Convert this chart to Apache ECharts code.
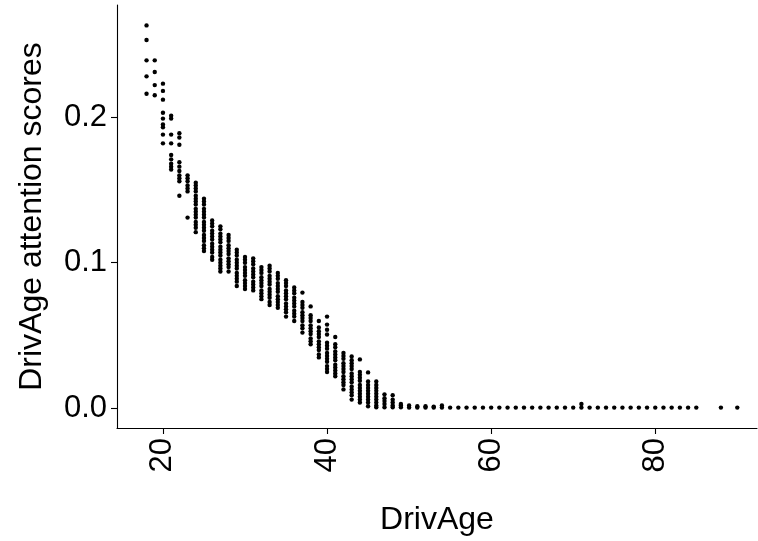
<!DOCTYPE html>
<html>
<head>
<meta charset="utf-8">
<script src="https://cdn.jsdelivr.net/npm/echarts@6/dist/echarts.min.js"></script>
<style>html,body{margin:0;padding:0;background:#fff}#c{width:758px;height:541px}</style>
</head>
<body>
<div id="c"></div>
<script>
var ages = [18,19,20,21,22,23,24,25,26,27,28,29,30,31,32,33,34,35,36,37,38,39,40,41,42,43,44,45,46,47,48,49,50,51,52,53,54,55,56,57,58,59,60,61,62,63,64,65,66,67,68,69,70,71,72,73,74,75,76,77,78,79,80,81,82,83,84,85,88,90];
var scores = [
  [0.263,0.253,0.239,0.228,0.216],
  [0.239,0.231,0.222,0.215],
  [0.223,0.218,0.212,0.203,0.199,0.195,0.193,0.188,0.182],
  [0.201,0.199,0.188,0.182,0.174,0.171,0.168,0.166,0.164],
  [0.189,0.186,0.181,0.169,0.166,0.163,0.160,0.158,0.156,0.146],
  [0.160,0.158,0.156,0.153,0.151,0.149,0.131],
  [0.155,0.153,0.151,0.149,0.146,0.144,0.142,0.140,0.137,0.135,0.133,0.131,0.128,0.126,0.124,0.121],
  [0.144,0.142,0.140,0.137,0.135,0.133,0.131,0.128,0.126,0.124,0.122,0.119,0.117,0.115,0.112,0.110,0.108],
  [0.129,0.127,0.125,0.122,0.120,0.118,0.116,0.113,0.111,0.109,0.107,0.104,0.102],
  [0.125,0.123,0.120,0.118,0.116,0.114,0.111,0.109,0.107,0.105,0.102,0.100,0.098,0.096,0.094],
  [0.119,0.117,0.115,0.112,0.110,0.108,0.106,0.103,0.101,0.099,0.097,0.094],
  [0.109,0.107,0.105,0.102,0.100,0.098,0.096,0.093,0.091,0.089,0.087,0.084],
  [0.104,0.102,0.100,0.097,0.095,0.093,0.091,0.088,0.086,0.084,0.082],
  [0.103,0.101,0.099,0.096,0.094,0.092,0.090,0.087,0.085,0.083,0.081],
  [0.097,0.095,0.093,0.090,0.088,0.086,0.084,0.081,0.079,0.077,0.075],
  [0.098,0.096,0.094,0.091,0.089,0.087,0.085,0.082,0.080,0.078,0.076,0.073,0.071],
  [0.093,0.091,0.089,0.086,0.084,0.082,0.080,0.077,0.075,0.073,0.071,0.069],
  [0.088,0.086,0.084,0.081,0.079,0.077,0.075,0.072,0.070,0.068,0.066,0.063],
  [0.083,0.081,0.079,0.076,0.074,0.072,0.070,0.067,0.065,0.063,0.060],
  [0.0795,0.073,0.071,0.069,0.066,0.064,0.062,0.060,0.057,0.055,0.052],
  [0.070,0.064,0.062,0.060,0.057,0.055,0.053,0.051,0.048,0.046,0.044],
  [0.060,0.0555,0.053,0.051,0.049,0.046,0.044,0.042,0.040,0.037,0.035],
  [0.063,0.0575,0.054,0.0507,0.045,0.043,0.041,0.038,0.036,0.034,0.032,0.029,0.027,0.025],
  [0.049,0.044,0.042,0.039,0.037,0.035,0.033,0.030,0.028,0.026,0.024,0.022],
  [0.038,0.036,0.034,0.031,0.029,0.027,0.025,0.022,0.020,0.018,0.016,0.013],
  [0.0356,0.033,0.031,0.029,0.027,0.024,0.022,0.020,0.018,0.015,0.013,0.011,0.009,0.006],
  [0.0336,0.025,0.023,0.021,0.019,0.016,0.014,0.012,0.010,0.008,0.006,0.004],
  [0.0247,0.0185,0.016,0.014,0.012,0.010,0.008,0.006,0.004,0.0014],
  [0.0185,0.016,0.014,0.012,0.010,0.008,0.006,0.004,0.002,0.0007],
  [0.0096,0.007,0.005,0.003,0.0007],
  [0.009,0.006,0.004,0.002,0.0007],
  [0.003,0.002,0.0007],
  [0.002,0.0005],
  [0.0015,0.0005],
  [0.0015,0.0005],
  [0.0012,0.0005],
  [0.002,0.0005],
  [0.0005],[0.0005],[0.0005],[0.0005],[0.0005],[0.0005],[0.0005],[0.0005],[0.0005],[0.0005],[0.0005],[0.0005],[0.0005],[0.0005],[0.0005],[0.0005],
  [0.003,0.0005],
  [0.0005],[0.0005],[0.0005],[0.0005],[0.0005],[0.0005],[0.0005],[0.0005],[0.0005],[0.0005],[0.0005],[0.0005],[0.0005],[0.0005],
  [0.0005],[0.0005]
];
var xTicks = [20,40,60,80];
var yTicks = [0.0,0.1,0.2];

var pts = [];
for (var i = 0; i < ages.length; i++) {
  for (var j = 0; j < scores[i].length; j++) pts.push([ages[i], scores[i][j]]);
}
var font = '"Liberation Sans", Arial, sans-serif';
var chart = echarts.init(document.getElementById('c'), null, {renderer:'canvas'});
chart.setOption({
  animation: false,
  backgroundColor: '#ffffff',
  grid: {left: 117, right: 1, top: 5, bottom: 113, containLabel: false},
  xAxis: {
    type: 'value', min: 14.4, max: 92.4,
    name: 'DrivAge', nameLocation: 'middle', nameGap: 76,
    nameTextStyle: {fontFamily: font, fontSize: 32, color: '#000'},
    splitLine: {show: false},
    axisLine: {show: true, onZero: false, lineStyle: {color: '#000', width: 1.1}},
    axisTick: {show: true, length: 6, customValues: xTicks, lineStyle: {color: '#000', width: 1.1}},
    axisLabel: {customValues: xTicks, rotate: 90, margin: 10, fontFamily: font, fontSize: 31, color: '#000',
      formatter: function(v){return String(v);}}
  },
  yAxis: {
    type: 'value', min: -0.0135, max: 0.277,
    name: 'DrivAge attention scores', nameLocation: 'middle', nameGap: 69, nameRotate: 90,
    nameTextStyle: {fontFamily: font, fontSize: 32, color: '#000'},
    splitLine: {show: false},
    axisLine: {show: true, onZero: false, lineStyle: {color: '#000', width: 1.1}},
    axisTick: {show: true, length: 6, customValues: yTicks, lineStyle: {color: '#000', width: 1.1}},
    axisLabel: {customValues: yTicks, margin: 10, fontFamily: font, fontSize: 31, color: '#000',
      formatter: function(v){return v.toFixed(1);}}
  },
  series: [{
    type: 'scatter', data: pts, symbol: 'circle', symbolSize: 4.4,
    itemStyle: {color: '#000', opacity: 1}
  }]
});
</script>
</body>
</html>
